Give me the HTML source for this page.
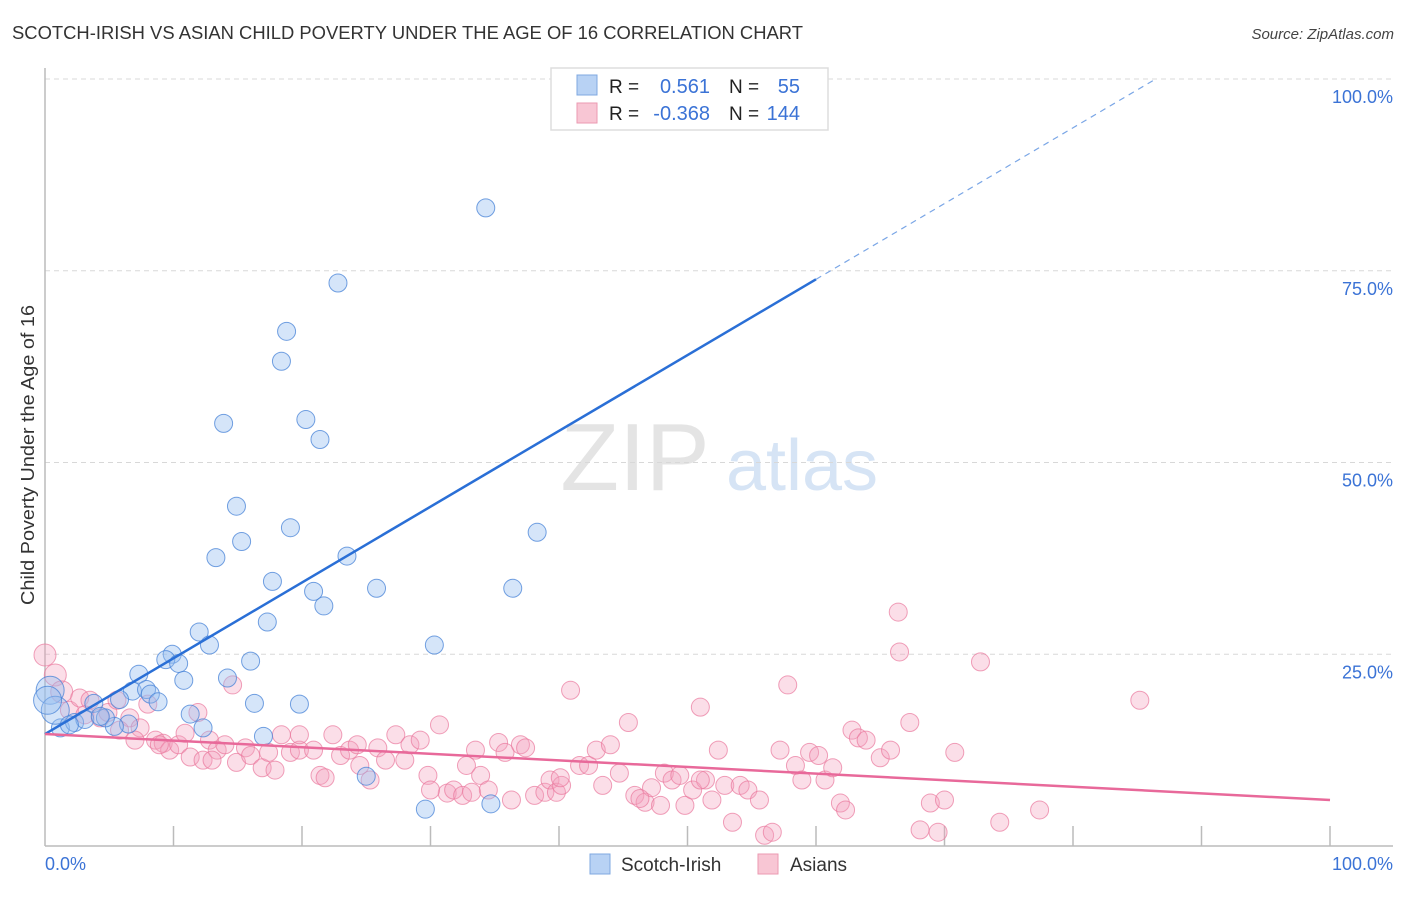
<!DOCTYPE html>
<html><head><meta charset="utf-8">
<style>
body{margin:0;background:#fff;font-family:"Liberation Sans",sans-serif;}
svg text{font-family:"Liberation Sans",sans-serif;}
</style></head>
<body>
<svg id="chart" width="1406" height="892" xmlns="http://www.w3.org/2000/svg">
<text x="12" y="39" font-size="18" fill="#333" textLength="791" lengthAdjust="spacingAndGlyphs">SCOTCH-IRISH VS ASIAN CHILD POVERTY UNDER THE AGE OF 16 CORRELATION CHART</text>
<text x="1394" y="39" font-size="15" fill="#444" font-style="italic" text-anchor="end">Source: ZipAtlas.com</text>
<text transform="translate(34,605) rotate(-90)" font-size="18" fill="#333" textLength="300" lengthAdjust="spacingAndGlyphs">Child Poverty Under the Age of 16</text>
<g>
<text x="635" y="490" font-size="96" fill="#e4e4e4" font-family="Liberation Serif" text-anchor="middle">ZIP</text>
<text x="802" y="490" font-size="72" fill="#d6e4f5" text-anchor="middle">atlas</text>
</g>
<g id="grid"></g>
<g id="axes"></g>
<g id="pts"></g>
<g id="lines"></g>
<g>
<rect x="551" y="68" width="277" height="62" fill="#fff" stroke="#ddd" stroke-width="1.5"/>
<rect x="577" y="75" width="20" height="20" fill="#b8d2f4" stroke="#7fa8e0"/>
<rect x="577" y="103" width="20" height="20" fill="#f8c6d4" stroke="#eb9ab2"/>
<text x="609" y="93" font-size="19" fill="#222">R =</text>
<text x="710" y="93" font-size="20" fill="#3b73d6" text-anchor="end">0.561</text>
<text x="729" y="93" font-size="19" fill="#222">N =</text>
<text x="800" y="93" font-size="20" fill="#3b73d6" text-anchor="end">55</text>
<text x="609" y="120" font-size="19" fill="#222">R =</text>
<text x="710" y="120" font-size="20" fill="#3b73d6" text-anchor="end">-0.368</text>
<text x="729" y="120" font-size="19" fill="#222">N =</text>
<text x="800" y="120" font-size="20" fill="#3b73d6" text-anchor="end">144</text>
</g>
<g>
<rect x="590" y="854" width="20" height="20" fill="#b8d2f4" stroke="#7fa8e0"/>
<text x="621" y="871" font-size="19" fill="#333">Scotch-Irish</text>
<rect x="758" y="854" width="20" height="20" fill="#f8c6d4" stroke="#eb9ab2"/>
<text x="790" y="871" font-size="19" fill="#333">Asians</text>
</g>
</svg>
<script>
const yTicks=[25,50,75,100];
const yTickLabels=["25.0%","50.0%","75.0%","100.0%"];
const xEndLabels=["0.0%","100.0%"];
const blueX=[53.7,34.3,22.8,18.8,18.4,20.3,13.9,21.4,14.9,19.1,38.3,15.3,13.3,23.5,17.7,25.8,36.4,20.9,21.7,17.3,12.0,30.3,9.9,9.4,12.8,10.4,16.0,7.3,10.8,14.2,6.8,7.9,8.2,8.8,5.8,3.8,16.3,19.8,11.3,12.3,6.5,5.4,1.2,2.3,3.1,4.7,17.0,4.3,25.0,29.6,34.7,0.4,0.8,0.2,1.9];
const blueY=[99.9,83.2,73.4,67.1,63.2,55.6,55.1,53.0,44.3,41.5,40.9,39.7,37.6,37.8,34.5,33.6,33.6,33.2,31.3,29.2,27.9,26.2,25.0,24.3,26.2,23.8,24.1,22.4,21.6,21.9,20.2,20.4,19.8,18.8,19.1,18.6,18.6,18.5,17.2,15.4,15.9,15.6,15.4,16.1,16.5,16.7,14.3,16.9,9.1,4.8,5.5,20.3,17.7,19.0,15.8];
const pinkX=[0,0.8,1.3,1.9,2.7,3.5,4.3,4.9,5.6,6.6,7.4,8.0,8.6,9.2,9.7,10.4,10.9,11.3,11.9,12.3,12.8,13.4,14.6,14.0,14.9,15.6,16.0,16.9,17.4,18.4,19.1,19.8,20.9,21.4,21.8,22.4,23.0,23.7,24.3,25.3,25.9,26.5,27.3,28.0,28.4,29.2,29.8,30.7,31.3,31.8,32.5,32.8,33.2,33.9,34.5,35.3,35.8,36.3,37.0,37.4,38.1,38.9,39.3,39.8,40.2,40.9,41.6,42.3,42.9,43.4,44.0,44.7,45.4,45.9,46.7,47.2,47.9,48.2,48.8,49.4,49.8,50.4,51.0,51.4,51.9,52.4,52.9,53.5,54.1,54.7,55.6,56.0,56.6,57.2,57.8,58.4,58.9,59.5,60.2,60.7,61.3,61.9,62.3,62.8,63.3,63.9,65.0,65.8,66.4,66.5,67.3,68.1,68.9,69.5,70.0,70.8,72.8,74.3,77.4,85.2,3.1,5.8,13.0,7.0,8.9,17.9,24.5,30.0,40.1,46.3,51.0,33.5,19.8];
const pinkY=[24.9,22.3,20.1,17.7,19.3,19.0,16.7,17.4,19.0,16.7,15.4,18.5,13.8,13.4,12.5,13.2,14.7,11.6,17.4,11.2,13.8,12.5,21.0,13.2,10.9,12.8,11.8,10.2,12.2,14.5,12.2,12.5,12.5,9.2,8.9,14.5,11.8,12.5,13.2,8.6,12.8,11.2,14.5,11.2,13.2,13.8,9.2,15.8,6.9,7.3,6.6,10.5,7.0,9.2,7.3,13.5,12.2,6.0,13.2,12.8,6.6,7.0,8.6,7.0,7.9,20.3,10.5,10.5,12.5,7.9,13.2,9.5,16.1,6.6,5.7,7.6,5.3,9.5,8.6,9.2,5.3,7.3,18.1,8.6,6.0,12.5,7.9,3.1,7.9,7.3,6.0,1.4,1.8,12.5,21.0,10.5,8.6,12.2,11.8,8.6,10.2,5.6,4.7,15.1,14.1,13.8,11.5,12.5,30.5,25.3,16.1,2.1,5.6,1.8,6.0,12.2,24.0,3.1,4.7,19.0,17.1,15.1,11.2,13.8,13.2,9.9,10.5,7.3,8.9,6.2,8.6,12.5,14.5];
const blueFit=[14.6,0.988];   // intercept, slope
const pinkFit=[14.6,-0.086];

const NS="http://www.w3.org/2000/svg";
const X0=45,X1=1330,Y0=846,Y1=79;
const sx=v=>X0+(X1-X0)*v/100;
const sy=v=>Y0-(Y0-Y1)*v/100;
function mk(tag,attrs,parent){const e=document.createElementNS(NS,tag);for(const k in attrs)e.setAttribute(k,attrs[k]);parent.appendChild(e);return e;}
const grid=document.getElementById('grid'),axes=document.getElementById('axes'),pts=document.getElementById('pts'),lines=document.getElementById('lines');
yTicks.forEach((t,i)=>{
  const l=mk('line',{x1:X0,x2:1393,y1:sy(t),y2:sy(t),stroke:'#d8d8d8','stroke-dasharray':'5,4'},grid);
  
  
  const tx=mk('text',{x:1393,y:sy(t)+24,'font-size':18,fill:'#3b73d6','text-anchor':'end'},axes);
  tx.textContent=yTickLabels[i];
  
  
});
let a=mk('line',{x1:X0,x2:X0,y1:68,y2:Y0,stroke:'#bbb','stroke-width':1.5},axes);


a=mk('line',{x1:X0,x2:1393,y1:Y0,y2:Y0,stroke:'#bbb','stroke-width':1.5},axes);


for(let t=10;t<=100;t+=10){
  const tk=mk('line',{x1:sx(t),x2:sx(t),y1:826,y2:Y0,stroke:'#bbb','stroke-width':1.5},axes);
  
  
}
[[0,'start',45],[100,'end',1393]].forEach((d,i)=>{
  const tx=mk('text',{x:d[2],y:870,'font-size':18,fill:'#3b73d6','text-anchor':d[1]},axes);
  tx.textContent=xEndLabels[i];
  
  
});
pinkX.forEach((x,i)=>{
  const c=mk('circle',{cx:sx(x),cy:sy(pinkY[i]),r:(x<1.5?11:9),fill:'rgba(244,160,188,0.35)',stroke:'rgba(234,120,156,0.7)','stroke-width':1},pts);
  
  
});
blueX.forEach((x,i)=>{
  const c=mk('circle',{cx:sx(x),cy:sy(blueY[i]),r:(x<1?14:9),fill:'rgba(150,190,240,0.4)',stroke:'rgba(70,130,215,0.75)','stroke-width':1},pts);
  
  
});
const bEnd=60,bDash=(100-blueFit[0])/blueFit[1];
let ln=mk('line',{x1:sx(0),y1:sy(blueFit[0]),x2:sx(bEnd),y2:sy(blueFit[0]+blueFit[1]*bEnd),stroke:'#2a6fd6','stroke-width':2.5},lines);


ln=mk('line',{x1:sx(bEnd),y1:sy(blueFit[0]+blueFit[1]*bEnd),x2:sx(bDash),y2:sy(100),stroke:'#7aa6e6','stroke-width':1.2,'stroke-dasharray':'6,5'},lines);


ln=mk('line',{x1:sx(0),y1:sy(pinkFit[0]),x2:sx(100),y2:sy(pinkFit[0]+pinkFit[1]*100),stroke:'#e8699a','stroke-width':2.5},lines);


</script>
</body></html>
